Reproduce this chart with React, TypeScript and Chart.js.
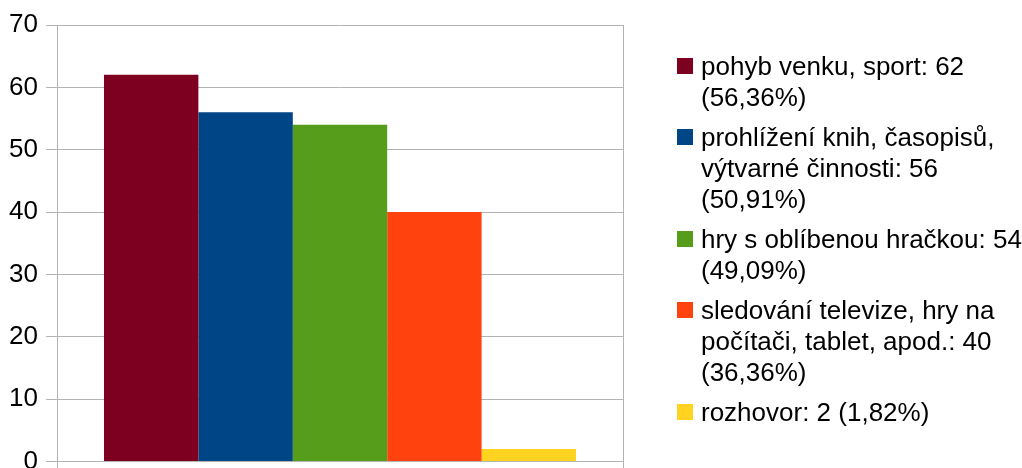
import React, { useEffect, useRef } from "react";
import { Chart, registerables } from "chart.js";

Chart.register(...registerables);

const seriesNames = [
  "pohyb venku, sport",
  "prohlížení knih, časopisů, výtvarné činnosti",
  "hry s oblíbenou hračkou",
  "sledování televize, hry na počítači, tablet, apod.",
  "rozhovor",
];
const seriesValues = [62, 56, 54, 40, 2];
const seriesColors = ["#7e0021", "#004586", "#579d1c", "#ff420e", "#ffd320"];
const legendLabels = [
  "pohyb venku, sport: 62\n(56,36%)",
  "prohlížení knih, časopisů,\nvýtvarné činnosti: 56\n(50,91%)",
  "hry s oblíbenou hračkou: 54\n(49,09%)",
  "sledování televize, hry na\npočítači, tablet, apod.: 40\n(36,36%)",
  "rozhovor: 2 (1,82%)",
];
const categories = [""];
const yMin = 0;
const yMax = 70;
const yStep = 10;

const FONT = "'Liberation Sans', Arial, sans-serif";
const GRID = "#b3b3b3";

export default function App() {
  const ref = useRef<HTMLCanvasElement | null>(null);
  useEffect(() => {
    if (!ref.current) return;
    const chart = new Chart(ref.current, {
      type: "bar",
      data: {
        labels: categories,
        datasets: seriesNames.map((name, i) => ({
          label: name,
          data: [seriesValues[i]],
          backgroundColor: seriesColors[i],
          borderWidth: 0,
          categoryPercentage: 0.834,
          barPercentage: 1,
        })),
      },
      options: {
        animation: false,
        responsive: false,
        maintainAspectRatio: false,
        layout: { padding: { top: 25, right: 399, left: 0, bottom: 0 } },
        plugins: { legend: { display: false }, tooltip: { enabled: false } },
        scales: {
          x: {
            grid: { color: GRID, tickLength: 11, offset: true },
            border: { color: GRID },
            ticks: { display: false },
            afterFit: (s: any) => {
              s.height = 20;
            },
          },
          y: {
            min: yMin,
            max: yMax,
            ticks: {
              stepSize: yStep,
              color: "#000",
              padding: 8,
              font: { family: FONT, size: 26 },
            },
            grid: { color: GRID, tickLength: 11 },
            border: { color: GRID },
            afterFit: (s: any) => {
              s.width = 57;
            },
          },
        },
      },
    });
    return () => chart.destroy();
  }, []);

  return (
    <div
      style={{
        position: "fixed",
        left: 0,
        top: 0,
        width: 1022,
        height: 468,
        overflow: "hidden",
        background: "#fff",
      }}
    >
      <canvas ref={ref} width={1022} height={485} style={{ position: "absolute", left: 0, top: 0 }} />
      <div
        style={{
          position: "absolute",
          left: 677,
          top: 50.5,
          display: "flex",
          flexDirection: "column",
          gap: 9,
          fontFamily: FONT,
          fontSize: 26,
          lineHeight: "31px",
          color: "#000",
        }}
      >
        {legendLabels.map((t, i) => (
          <div key={i} style={{ position: "relative", paddingLeft: 24, whiteSpace: "pre" }}>
            <span
              style={{
                position: "absolute",
                left: 0,
                top: 7.5,
                width: 16,
                height: 16,
                background: seriesColors[i],
              }}
            />
            {t}
          </div>
        ))}
      </div>
    </div>
  );
}
